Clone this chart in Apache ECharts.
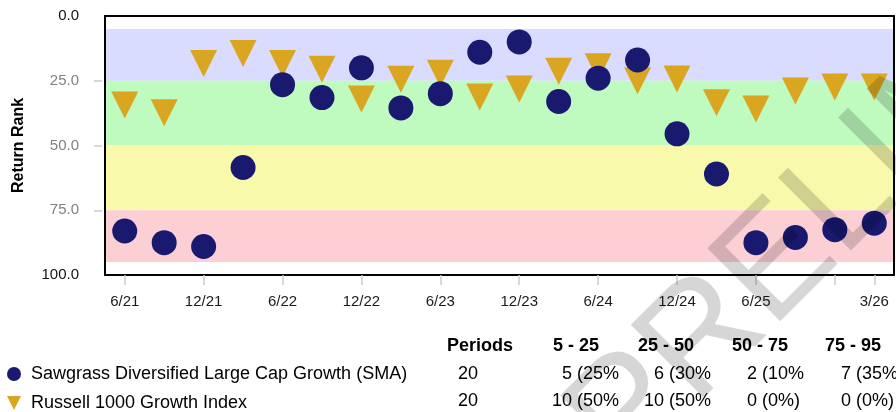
<!DOCTYPE html>
<html><head><meta charset="utf-8">
<script src="https://cdn.jsdelivr.net/npm/echarts@6/dist/echarts.min.js"></script>
<style>html,body{margin:0;padding:0;background:#fff}#c{width:896px;height:412px}</style>
</head><body><div id="c"></div>
<script>
// ---- data ----
const periods = ['6/21','9/21','12/21','3/22','6/22','9/22','12/22','3/23','6/23','9/23','12/23','3/24','6/24','9/24','12/24','3/25','6/25','9/25','12/25','3/26'];
const labeledPeriods = ['6/21','12/21','6/22','12/22','6/23','12/23','6/24','12/24','6/25','3/26'];
const tickedPeriods = ['6/21','12/21','6/22','12/22','6/23','12/23','6/24','12/24','6/25','12/25','3/26'];
const seriesNames = ['Sawgrass Diversified Large Cap Growth (SMA)', 'Russell 1000 Growth Index'];
const sawgrass = [83, 87.5, 89, 58.5, 26.5, 31.5, 20, 35.5, 30, 14, 10, 33, 24, 17, 45.5, 61, 87.5, 85.5, 82.5, 80];
const russell = [32.6, 35.6, 16.6, 12.7, 16.6, 18.8, 30.3, 22.7, 20.4, 29.5, 26.4, 19.6, 17.9, 23.3, 22.6, 31.8, 34.2, 27.2, 25.7, 25.7];
const yTickValues = ['0', '25', '50', '75', '100'];
const bandRanges = [[5, 25], [25, 50], [50, 75], [75, 95]];
const tableHeaders = ['Periods', '5 - 25', '25 - 50', '50 - 75', '75 - 95'];
const periodCounts = ['20', '20'];
const sawgrassBins = ['5 (25%', '6 (30%', '2 (10%', '7 (35%'];
const russellBins = ['10 (50%', '10 (50%', '0 (0%)', '0 (0%)'];
const watermarkText = 'PRELIMINARY';

// ---- style ----
const FONT = '"Liberation Sans", Arial, Helvetica, sans-serif';
const bandColors = ['#d9dcfe', '#bffabf', '#f8f9aa', '#fbcfd4'];
const navy = '#191970';
const gold = '#DAA520';
const triPath = 'path://M0,0 L2,0 L1,2 Z';

const chart = echarts.init(document.getElementById('c'), null, {renderer: 'canvas'});

const headerX = [447, 553, 638, 732, 825];
const colStart = [552, 644, 737, 831];
const rowY = [374, 401];
const graphics = [];
tableHeaders.forEach((h, i) => graphics.push({
  type: 'text', x: headerX[i], y: 346, silent: true,
  style: {text: h, font: 'bold 18px ' + FONT, fill: '#000', align: 'left', verticalAlign: 'middle'}
}));
[sawgrassBins, russellBins].forEach((row, r) => {
  graphics.push({type: 'text', x: 458, y: rowY[r], silent: true,
    style: {text: periodCounts[r], font: '18px ' + FONT, fill: '#000', align: 'left', verticalAlign: 'middle'}});
  row.forEach((cell, c) => {
    const n = parseInt(cell, 10);
    graphics.push({type: 'text', x: colStart[c] + (n < 10 ? 10 : 0), y: rowY[r], silent: true,
      style: {text: cell, font: '18px ' + FONT, fill: '#000', align: 'left', verticalAlign: 'middle'}});
  });
});
graphics.push({
  type: 'text', x: 595, y: 448, rotation: Math.PI / 4, z: 100, silent: true,
  style: {text: watermarkText, font: '150px ' + FONT, fill: 'rgba(0,0,0,0.16)', align: 'left', verticalAlign: 'middle'}
});

const axisLineStyle = {show: true, onZero: false, lineStyle: {color: '#000', width: 2}};

const option = {
  animation: false,
  backgroundColor: '#fff',
  textStyle: {fontFamily: FONT},
  grid: {left: 105, right: 2, top: 16, bottom: 137, containLabel: false, outerBoundsMode: 'none'},
  legend: [
    {data: [{name: seriesNames[0], icon: 'circle'}], left: 7, top: 364, padding: 0, itemWidth: 24, itemHeight: 14,
     selectedMode: false, textStyle: {fontSize: 18, color: '#000', fontFamily: FONT, lineHeight: 20}},
    {data: [{name: seriesNames[1], icon: triPath}], left: 7, top: 393, padding: 0, itemWidth: 24, itemHeight: 14,
     selectedMode: false, textStyle: {fontSize: 18, color: '#000', fontFamily: FONT, lineHeight: 20}}
  ],
  xAxis: [
    {type: 'category', data: periods, position: 'bottom', boundaryGap: true, z: 10,
     axisLine: axisLineStyle,
     axisTick: {show: true, alignWithLabel: true, length: 10, interval: (i) => tickedPeriods.includes(periods[i]),
       lineStyle: {color: '#cccccc', width: 1.5}},
     axisLabel: {show: true, interval: (i) => labeledPeriods.includes(periods[i]), fontSize: 15, color: '#1a1a1a',
       margin: 19, fontFamily: FONT},
     splitLine: {show: false}},
    {type: 'category', data: periods, position: 'top', boundaryGap: true, z: 10,
     axisLine: axisLineStyle, axisTick: {show: false}, axisLabel: {show: false}, splitLine: {show: false}}
  ],
  yAxis: [
    {type: 'value', min: 0, max: 100, interval: 25, inverse: true, position: 'left', z: 10,
     name: 'Return Rank', nameLocation: 'middle', nameGap: 78, nameRotate: 90,
     nameTextStyle: {fontSize: 16, fontWeight: 'bold', color: '#000', fontFamily: FONT},
     axisLine: axisLineStyle, axisTick: {show: false},
     axisLabel: {fontSize: 15, margin: 26, fontFamily: FONT, formatter: (v) => v.toFixed(1),
       color: (v) => (Number(v) === 0 || Number(v) === 100) ? '#111111' : '#808080'},
     splitLine: {show: false}},
    {type: 'category', data: yTickValues, inverse: true, boundaryGap: false, position: 'left', offset: 3, z: 10,
     axisLine: {show: false, onZero: false}, axisLabel: {show: false}, splitLine: {show: false},
     axisTick: {show: true, length: 8, interval: (i) => i > 0 && i < yTickValues.length - 1,
       lineStyle: {color: '#cccccc', width: 1.5}}},
    {type: 'value', min: 0, max: 100, inverse: true, position: 'right', z: 10,
     axisLine: axisLineStyle, axisTick: {show: false}, axisLabel: {show: false}, splitLine: {show: false}}
  ],
  series: [
    {name: seriesNames[1], type: 'scatter', xAxisIndex: 0, yAxisIndex: 0, data: russell,
     symbol: triPath, symbolSize: [27, 27], symbolOffset: [0, 4.5], itemStyle: {color: gold, opacity: 1},
     silent: true, z: 3,
     markArea: {silent: true, itemStyle: {opacity: 1},
       data: bandRanges.map((r, i) => [{yAxis: r[0], itemStyle: {color: bandColors[i]}}, {yAxis: r[1]}])}},
    {name: seriesNames[0], type: 'scatter', xAxisIndex: 0, yAxisIndex: 0, data: sawgrass,
     symbol: 'circle', symbolSize: 25, itemStyle: {color: navy, opacity: 1}, silent: true, z: 4}
  ],
  graphic: graphics
};
chart.setOption(option);
</script>
</body></html>
